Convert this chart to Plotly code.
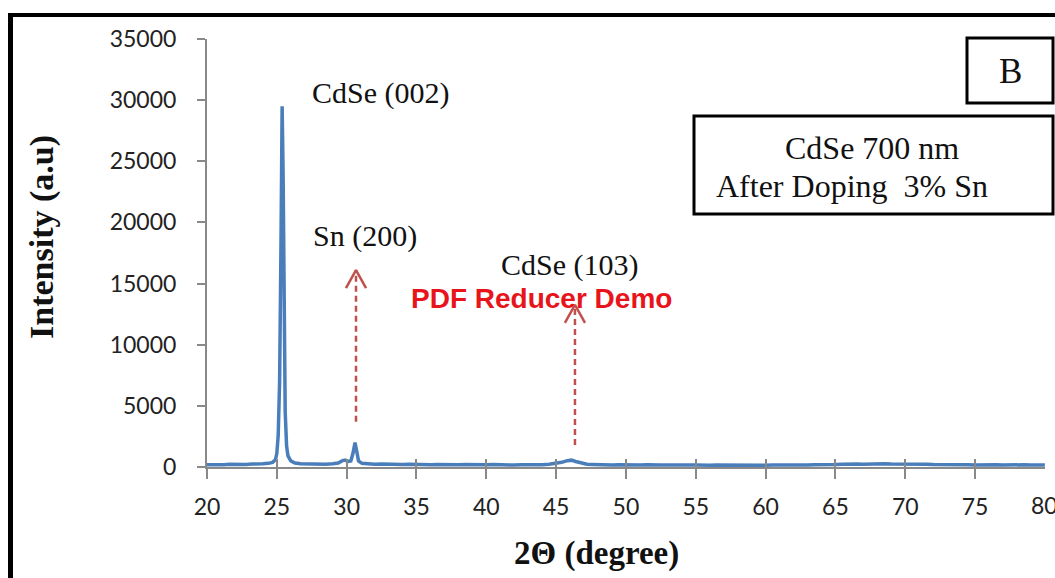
import plotly.graph_objects as go

# XRD pattern of the Sn-doped CdSe film (2-theta in degrees, intensity in a.u.)
two_theta = [
    20.0, 20.4, 20.8, 21.2, 21.6, 22.0, 22.4, 22.8, 23.2, 23.6, 24.0, 24.4, 24.7, 24.9,
    25.0, 25.1, 25.2, 25.3, 25.38, 25.45, 25.52, 25.6, 25.7, 25.8, 26.0, 26.3, 26.7,
    27.0, 27.5, 28.0, 28.5, 29.0, 29.4, 29.7, 29.9, 30.1, 30.3, 30.45, 30.6, 30.72, 30.85,
    31.1, 31.5, 32.0, 32.5, 33.0, 33.5, 34.0, 34.5, 35.0, 35.5, 36.0, 36.5, 37.0, 37.5,
    38.0, 38.5, 39.0, 39.5, 40.0, 40.5, 41.0, 41.5, 42.0, 42.5, 43.0, 43.5, 44.0, 44.5,
    45.0, 45.4, 45.8, 46.1, 46.4, 46.8, 47.2, 47.6, 48.0, 48.5, 49.0, 49.5, 50.0, 50.5,
    51.0, 51.5, 52.0, 52.5, 53.0, 53.5, 54.0, 54.5, 55.0, 55.5, 56.0, 56.5, 57.0, 57.5,
    58.0, 58.5, 59.0, 59.5, 60.0, 60.5, 61.0, 61.5, 62.0, 62.5, 63.0, 63.5, 64.0, 64.5,
    65.0, 65.5, 66.0, 66.5, 67.0, 67.5, 68.0, 68.5, 69.0, 69.5, 70.0, 70.5, 71.0, 71.5,
    72.0, 72.5, 73.0, 73.5, 74.0, 74.5, 75.0, 75.5, 76.0, 76.5, 77.0, 77.5, 78.0, 78.5,
    79.0, 79.5, 80.0,
]
intensity = [
    190, 170, 210, 180, 220, 190, 230, 200, 240, 220, 260, 300, 380, 600,
    1100, 2600, 7000, 18500, 29500, 24000, 12000, 4500, 1700, 900, 500, 330, 260,
    250, 220, 260, 230, 270, 330, 520, 560, 450, 500, 1100, 2000, 1300, 500,
    300, 260, 230, 250, 210, 240, 200, 230, 190, 220, 180, 210, 190, 220,
    180, 200, 170, 210, 180, 200, 170, 190, 160, 190, 180, 200, 190, 230,
    300, 380, 520, 560, 450, 300, 220, 200, 170, 190, 160, 180, 150, 180,
    160, 190, 150, 170, 160, 180, 150, 170, 160, 190, 150, 170, 160, 180,
    150, 170, 160, 180, 150, 170, 160, 190, 170, 180, 160, 190, 180, 200,
    210, 230, 200, 240, 220, 250, 230, 260, 240, 250, 230, 240, 220, 230,
    200, 210, 180, 200, 170, 190, 160, 180, 170, 190, 160, 180, 170, 180,
    160, 170, 160,
]

x_ticks = [20, 25, 30, 35, 40, 45, 50, 55, 60, 65, 70, 75, 80]
y_ticks = [0, 5000, 10000, 15000, 20000, 25000, 30000, 35000]

# Peak labels: (text, 2-theta, intensity at text centre)
peak_labels = [
    ("CdSe (002)", 32.46, 30600),
    ("Sn (200)", 31.31, 18900),
    ("CdSe (103)", 45.99, 16500),
]
# Dashed marker arrows: (2-theta, start intensity, tip intensity)
peak_arrows = [
    (30.67, 3700, 16100),
    (46.35, 1800, 13250),
]

W, H = 1055, 578
L, R, T, B = 207, 10, 39, 111
PW, PH = W - L - R, H - T - B

def px(x):
    return (x - L) / PW

def py(y):
    return (H - B - y) / PH

SERIF = "Liberation Serif, Times New Roman, serif"
SANS = "Lato, Open Sans, sans-serif"
AXIS_GREY = "#898989"
LINE_BLUE = "#4a7ebb"
ARROW_RED = "#c0504d"
TICK_FONT = dict(family=SANS, size=23, color="#222")

fig = go.Figure()

fig.add_trace(go.Scatter(
    x=two_theta, y=intensity, mode="lines",
    line=dict(color=LINE_BLUE, width=3.5),
    showlegend=False, hoverinfo="skip",
))

# Dashed arrow shafts and open arrow heads
head_dx, head_dy = 0.72, 1470
for xa, y0, y1 in peak_arrows:
    fig.add_trace(go.Scatter(
        x=[xa, xa], y=[y0, y1], mode="lines",
        line=dict(color=ARROW_RED, width=2.5, dash="6px,4px"),
        showlegend=False, hoverinfo="skip",
    ))
    fig.add_trace(go.Scatter(
        x=[xa - head_dx, xa, xa + head_dx], y=[y1 - head_dy, y1, y1 - head_dy],
        mode="lines", line=dict(color=ARROW_RED, width=2.5),
        showlegend=False, hoverinfo="skip",
    ))

# Empty trace that carries the inner half of the crossing x ticks
fig.add_trace(go.Scatter(x=[None], y=[None], xaxis="x2", showlegend=False, hoverinfo="skip"))

def label(text, x, y, size, family=SERIF, color="#111", xanchor="center", **kw):
    return dict(text=text, x=x, y=y, xref="paper", yref="paper", showarrow=False,
                xanchor=xanchor, yanchor="middle",
                font=dict(family=family, size=size, color=color), **kw)

annotations = []
for text, xv, yv in peak_labels:
    annotations.append(dict(
        text=text, x=xv, y=yv, xref="x", yref="y", showarrow=False,
        xanchor="center", yanchor="middle",
        font=dict(family=SERIF, size=30, color="#111"),
    ))

# last x tick label runs off the right edge, so it is placed as free text
last_tick = x_ticks[-1]
annotations.append(dict(
    text=str(last_tick), x=last_tick, y=py(505), xref="x", yref="paper",
    showarrow=False, xanchor="center", yanchor="middle", font=TICK_FONT,
))

annotations += [
    label("<b>PDF Reducer Demo</b>", px(541), py(298), 28,
          family="Liberation Sans, Arial, sans-serif", color="#e8141b"),
    label("<b>Intensity (a.u)</b>", px(42), py(237), 34, textangle=-90),
    label("<b>2\u0398 (degree)</b>", px(596), py(553), 33),
    label("B", px(1010), py(71), 35),
    label("CdSe 700 nm", px(872), py(148), 32),
    label("After Doping\u00a0 3% Sn", px(714), py(186), 32, xanchor="left"),
]

shapes = [
    # outer frame (top and left edges)
    dict(type="line", xref="paper", yref="paper", x0=px(8), x1=px(1060), y0=py(15), y1=py(15),
         line=dict(color="black", width=4)),
    dict(type="line", xref="paper", yref="paper", x0=px(10.5), x1=px(10.5), y0=py(13), y1=py(585),
         line=dict(color="black", width=5)),
    # panel label box
    dict(type="rect", xref="paper", yref="paper", x0=px(967), x1=px(1053), y0=py(38), y1=py(103),
         line=dict(color="black", width=3), fillcolor="white", layer="below"),
    # sample description box
    dict(type="rect", xref="paper", yref="paper", x0=px(694), x1=px(1053), y0=py(116), y1=py(214),
         line=dict(color="black", width=3), fillcolor="white", layer="below"),
]

fig.update_layout(
    width=W, height=H,
    margin=dict(l=L, r=R, t=T, b=B, pad=0),
    paper_bgcolor="white", plot_bgcolor="white",
    showlegend=False,
    annotations=annotations,
    shapes=shapes,
    xaxis=dict(
        range=[20, 80.01], tickvals=x_ticks[:-1], ticktext=[str(v) for v in x_ticks[:-1]],
        showgrid=False, zeroline=False, showline=True, linecolor=AXIS_GREY, linewidth=2,
        ticks="outside", ticklen=10, tickwidth=2, tickcolor=AXIS_GREY,
        tickfont=TICK_FONT, ticklabelstandoff=8,
    ),
    xaxis2=dict(
        range=[20, 80.01], tickvals=x_ticks, overlaying="x", anchor="y", side="bottom",
        showgrid=False, zeroline=False, showline=False, showticklabels=False,
        ticks="inside", ticklen=8, tickwidth=2, tickcolor=AXIS_GREY,
    ),
    yaxis=dict(
        range=[0, 35000], tickvals=y_ticks, ticktext=[str(v) for v in y_ticks],
        showgrid=False, zeroline=False, showline=True, linecolor=AXIS_GREY, linewidth=2,
        ticks="outside", ticklen=8, tickwidth=2, tickcolor=AXIS_GREY,
        tickfont=TICK_FONT, ticklabelstandoff=16,
    ),
)

# outer tick mark for the last x position (labels above cover the rest)
fig.add_trace(go.Scatter(
    x=[last_tick, last_tick], y=[0, -800], mode="lines",
    line=dict(color=AXIS_GREY, width=2), showlegend=False, hoverinfo="skip",
    cliponaxis=False,
))

fig.write_html("out.html")
